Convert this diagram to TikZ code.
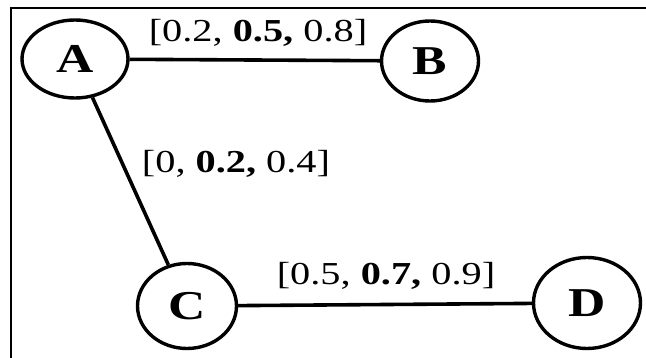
\documentclass[tikz,border=0pt]{standalone}
\usepackage{fontspec}
\setmainfont[FakeStretch=1.26]{Liberation Serif}
\usetikzlibrary{shapes.geometric}
\tikzset{
  vertex/.style={ellipse, draw, line width=3.4pt, inner sep=0pt,
    minimum width=102pt, minimum height=82pt,
    font=\fontsize{41}{41}\selectfont\bfseries},
  edgeline/.style={line width=3.6pt},
  weight/.style={anchor=base, inner sep=0pt, font=\fontsize{32}{32}\selectfont},
  frameline/.style={line width=1.8pt}
}
\begin{document}
\begin{tikzpicture}[x=1pt, y=-1pt]
\useasboundingbox (0,0) rectangle (646,358);
\clip (0,0) rectangle (646,358);
\draw[frameline] (11,8) rectangle (700,400);
\node[vertex, minimum width=106pt, minimum height=78pt] (A) at (75,59) {A};
\node[vertex, minimum width=97pt, minimum height=80pt] (B) at (430,61) {B};
\node[vertex, minimum width=99pt, minimum height=85pt] (C) at (187,306) {C};
\node[vertex, minimum width=107pt, minimum height=91pt] (D) at (587,303) {D};
\draw[edgeline] (A) -- (B);
\draw[edgeline] (A) -- (C);
\draw[edgeline] (C) -- (D);
\node[weight] (wab) at (258,42) {[0.2, \textbf{0.5,} 0.8]};
\node[weight] (wac) at (236,173) {[0, \textbf{0.2,} 0.4]};
\node[weight] (wcd) at (386,285) {[0.5, \textbf{0.7,} 0.9]};
\end{tikzpicture}
\end{document}
